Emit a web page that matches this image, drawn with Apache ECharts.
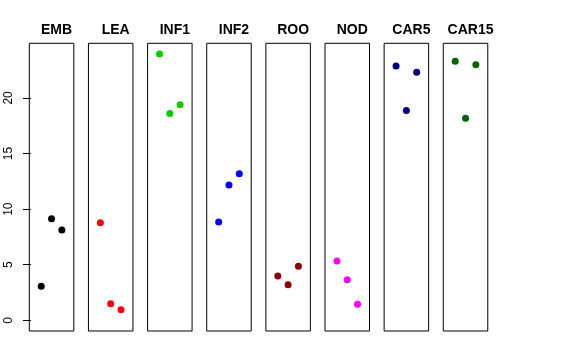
<!DOCTYPE html>
<html><head><meta charset="utf-8">
<script src="https://cdn.jsdelivr.net/npm/echarts@6/dist/echarts.min.js"></script>
<style>html,body{margin:0;padding:0;background:#fff}#c{width:576px;height:360px}</style>
</head><body><div id="c"></div>
<script>
const groups = ["EMB","LEA","INF1","INF2","ROO","NOD","CAR5","CAR15"];
const colors = ["#000000","#FF0000","#00CD00","#0000FF","#8B0000","#FF00FF","#000080","#006400"];
const xPos = [1, 2, 3];
const EMB = [3.06, 9.14, 8.12];
const LEA = [8.78, 1.50, 0.96];
const INF1 = [23.95, 18.59, 19.39];
const INF2 = [8.84, 12.17, 13.19];
const ROO = [3.99, 3.21, 4.86];
const NOD = [5.34, 3.66, 1.44];
const CAR5 = [22.87, 18.86, 22.30];
const CAR15 = [23.29, 18.17, 22.99];
const yTicks = [0, 5, 10, 15, 20];
const values = [EMB, LEA, INF1, INF2, ROO, NOD, CAR5, CAR15];

const yMin = -0.958, yMax = 24.91;
const panelW = 44.5, step = 59.14, left0 = 29.3, gridTop = 43.3, gridH = 287.7;

const grid = [], xAxis = [], yAxis = [], series = [], title = [];
groups.forEach((g, i) => {
  const L = left0 + step * i;
  grid.push({left: L, top: gridTop, width: panelW, height: gridH, show: true,
    borderColor: '#000', borderWidth: 1, backgroundColor: 'transparent'});
  xAxis.push({gridIndex: i, type: 'value', min: -0.16, max: 4.16,
    axisLine: {show: false}, axisTick: {show: false}, axisLabel: {show: false}, splitLine: {show: false}});
  yAxis.push({gridIndex: i, type: 'value', min: yMin, max: yMax,
    axisLine: {show: false},
    axisTick: {show: i === 0, length: 8, customValues: yTicks, lineStyle: {color: '#000'}},
    axisLabel: {show: i === 0, customValues: yTicks, rotate: 90, margin: 15,
      fontFamily: 'Liberation Sans', fontSize: 12, color: '#000'},
    splitLine: {show: false}});
  series.push({type: 'scatter', xAxisIndex: i, yAxisIndex: i, symbolSize: 7,
    itemStyle: {color: colors[i], opacity: 1},
    data: xPos.map((x, k) => [x, values[i][k]]), silent: true, animation: false});
  title.push({text: g, left: L + panelW / 2, top: 18, textAlign: 'center',
    textStyle: {fontFamily: 'Liberation Sans', fontWeight: 'bold', fontSize: 14, color: '#000'}});
});

const chart = echarts.init(document.getElementById('c'), null, {renderer: 'canvas'});
chart.setOption({animation: false, title, grid, xAxis, yAxis, series});
</script></body></html>
